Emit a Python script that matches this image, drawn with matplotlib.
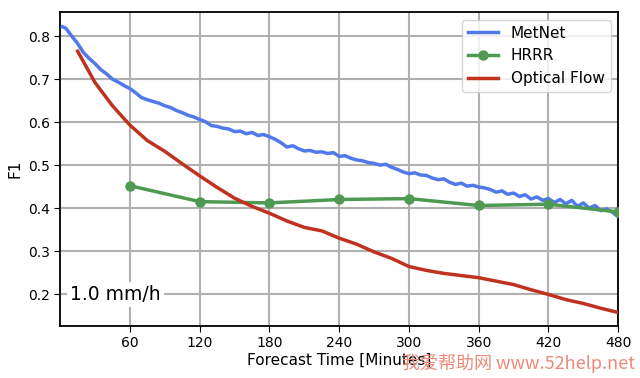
import matplotlib.pyplot as plt

# MetNet F1 curve
metnet_t = [2] + list(range(5, 481, 5))
metnet_f1 = [0.822, 0.818, 0.800, 0.783, 0.762, 0.748, 0.736, 0.722, 0.712, 0.700,
             0.693, 0.685, 0.678, 0.668, 0.657, 0.652, 0.648, 0.644, 0.638, 0.634,
             0.627, 0.622, 0.616, 0.612, 0.606, 0.601, 0.592, 0.590, 0.586, 0.584,
             0.578, 0.579, 0.573, 0.576, 0.569, 0.571, 0.566, 0.560, 0.552, 0.542,
             0.545, 0.538, 0.533, 0.534, 0.530, 0.531, 0.527, 0.529, 0.520, 0.522,
             0.516, 0.512, 0.510, 0.506, 0.504, 0.500, 0.502, 0.495, 0.490, 0.484,
             0.480, 0.482, 0.477, 0.476, 0.470, 0.466, 0.468, 0.460, 0.455, 0.458,
             0.451, 0.453, 0.449, 0.447, 0.443, 0.437, 0.440, 0.432, 0.435, 0.427,
             0.431, 0.421, 0.426, 0.418, 0.422, 0.413, 0.420, 0.410, 0.418, 0.404,
             0.412, 0.400, 0.406, 0.394, 0.398, 0.390, 0.380]

# HRRR hourly points
hrrr_t = [60, 120, 180, 240, 300, 360, 420, 480]
hrrr_f1 = [0.452, 0.415, 0.412, 0.420, 0.422, 0.406, 0.409, 0.391]

# Optical flow every 15 minutes
flow_t = list(range(15, 481, 15))
flow_f1 = [0.765, 0.692, 0.638, 0.593, 0.557, 0.532, 0.503, 0.475, 0.448, 0.423,
           0.404, 0.388, 0.370, 0.355, 0.347, 0.330, 0.316, 0.298, 0.283, 0.264,
           0.255, 0.248, 0.243, 0.238, 0.230, 0.222, 0.210, 0.199, 0.187, 0.178,
           0.167, 0.157]

xticks = [60, 120, 180, 240, 300, 360, 420, 480]
yticks = [0.2, 0.3, 0.4, 0.5, 0.6, 0.7, 0.8]

fig, ax = plt.subplots(figsize=(6.4, 3.78), dpi=100)
fig.subplots_adjust(left=0.094, right=0.966, top=0.968, bottom=0.138)

ax.plot(metnet_t, metnet_f1, color='#5079ea', lw=2.5, label='MetNet', zorder=3)
ax.plot(hrrr_t, hrrr_f1, color='#4f9a52', lw=2.5, marker='o', ms=6.5,
        label='HRRR', zorder=3)
ax.plot(flow_t, flow_f1, color='#c0321f', lw=2.5, label='Optical Flow', zorder=3)

ax.set_xlim(0, 480)
ax.set_ylim(0.126, 0.856)
ax.set_xticks(xticks)
ax.set_yticks(yticks)
ax.grid(True, color='#b0b0b0', lw=1.5)
ax.set_axisbelow(True)
ax.tick_params(labelsize=10, length=4)
for s in ax.spines.values():
    s.set_linewidth(1.3)

ax.set_xlabel('Forecast Time [Minutes]', fontsize=11, labelpad=2)
ax.set_ylabel('F1', fontsize=11)

ax.text(0.018, 0.10, '1.0 mm/h', transform=ax.transAxes, fontsize=13.5,
        va='center', ha='left',
        bbox=dict(facecolor='white', edgecolor='none', pad=2))

ax.legend(loc='upper right', fontsize=11, framealpha=0.8)

fig.text(0.992, 0.012, '我爱帮助网 www.52help.net', color='#ec8a7a', fontsize=13,
         ha='right', va='bottom', family=['Noto Sans CJK SC', 'DejaVu Sans'])

plt.savefig('out.png')
